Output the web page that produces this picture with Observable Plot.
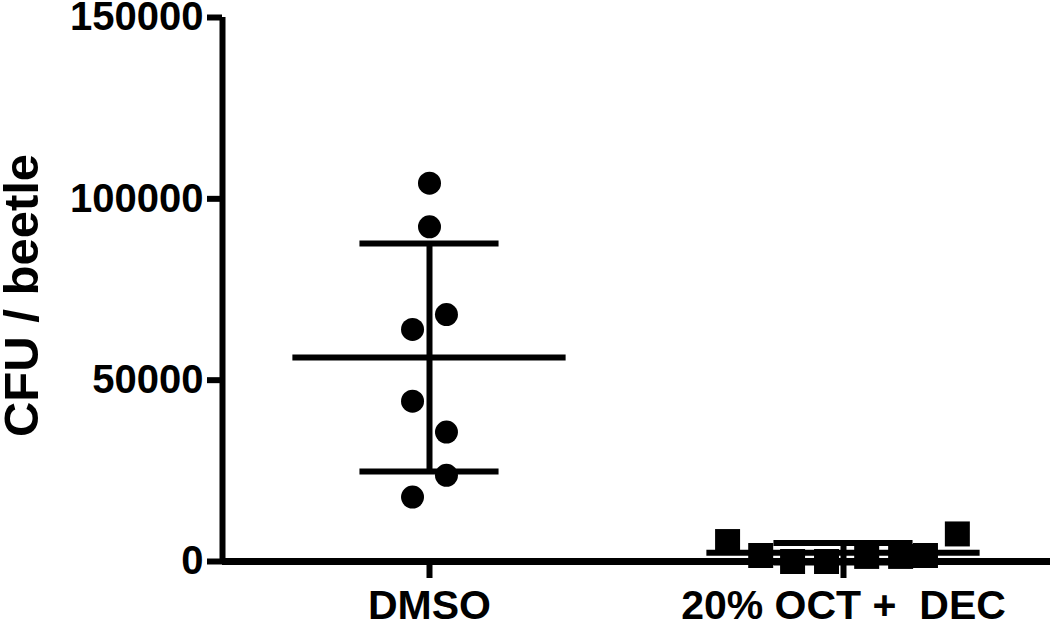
<!DOCTYPE html>
<html><head><meta charset="utf-8">
<script src="https://cdn.jsdelivr.net/npm/d3@7"></script>
<script src="https://cdn.jsdelivr.net/npm/@observablehq/plot@0.6"></script>
<style>body{margin:0;background:#fff}</style>
</head><body><div id="chart"></div>
<script>
const groups = ["DMSO", "20% OCT +  DEC"];
const dmsoValues = [104300, 92300, 68100, 64000, 44200, 35700, 23750, 17760];
const dmsoJitter = [0, 0, 0.041, -0.041, -0.041, 0.041, 0.041, -0.041];
const octDecValues = [5500, 1650, 0, 0, 1400, 1400, 1650, 7600];
const octDecJitter = [-0.280, -0.200, -0.123, -0.041, 0.056, 0.138, 0.198, 0.275];
const yTicks = [0, 50000, 100000, 150000];
const yLabel = "CFU / beetle";

const dmsoPts = dmsoValues.map((v, i) => ({x: 1 + dmsoJitter[i], y: v}));
const octPts = octDecValues.map((v, i) => ({x: 2 + octDecJitter[i], y: v}));
const stats = [dmsoValues, octDecValues].map((vals, i) => {
  const m = d3.mean(vals), s = d3.deviation(vals);
  return {x: i + 1, mean: m, lo: m - s, hi: m + s};
});
const sdEnds = stats.flatMap(d => [{x: d.x, y: d.lo}, {x: d.x, y: d.hi}]);

const font = "'Liberation Sans', Arial, Helvetica, sans-serif";
const chart = Plot.plot({
  width: 1050,
  height: 621,
  marginLeft: 222,
  marginRight: 0,
  marginTop: 17,
  marginBottom: 60,
  style: {fontFamily: font, fontWeight: "bold", color: "black", background: "white"},
  x: {domain: [0.5, 2.5], label: null},
  y: {domain: [0, 150000], label: null},
  marks: [
    Plot.ruleY(stats, {y: "mean", x1: d => d.x - 0.33, x2: d => d.x + 0.33, strokeWidth: 6, stroke: "black"}),
    Plot.ruleY(sdEnds, {y: "y", x1: d => d.x - 0.168, x2: d => d.x + 0.168, strokeWidth: 6, stroke: "black"}),
    Plot.ruleX(stats, {x: "x", y1: "lo", y2: "hi", strokeWidth: 6, stroke: "black"}),
    Plot.dot(dmsoPts, {x: "x", y: "y", r: 11.5, fill: "black", stroke: null}),
    Plot.dot(octPts, {x: "x", y: "y", r: 14.1, symbol: "square", fill: "black", stroke: null}),
    Plot.ruleX([0.5], {y1: 0, y2: 150000, strokeWidth: 6, stroke: "black"}),
    Plot.ruleY([0], {x1: 0.5, x2: 2.5, strokeWidth: 7, stroke: "black"}),
    Plot.axisY({ticks: yTicks, tickSize: 15, tickPadding: 4, strokeWidth: 6, fontSize: 40, tickFormat: d => String(d), label: null}),
    Plot.axisX({ticks: [1, 2], tickSize: 17, tickPadding: 11, strokeWidth: 6, fontSize: 41, tickFormat: d => groups[d - 1], label: null}),
    Plot.text([yLabel], {frameAnchor: "left", textAnchor: "middle", rotate: -90, dx: -200, dy: 6, fontSize: 49, fill: "black"})
  ]
});
document.getElementById("chart").appendChild(chart);
</script>
</body></html>
